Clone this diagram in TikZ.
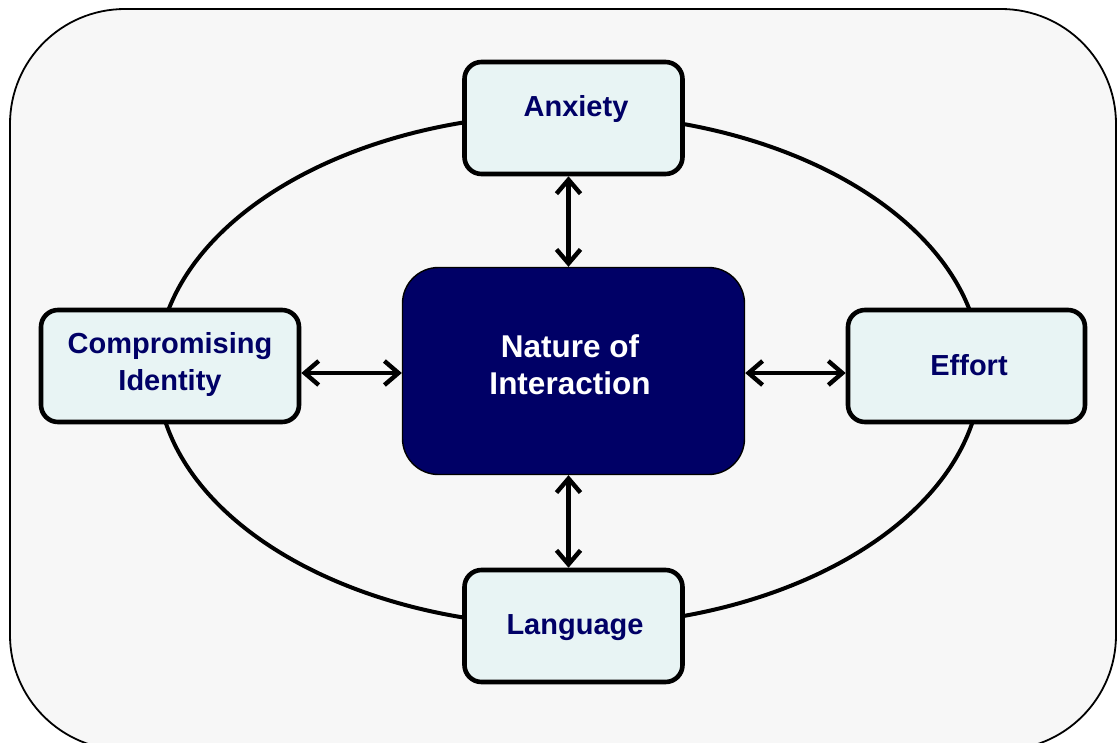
\documentclass[tikz,border=0pt]{standalone}
\usepackage{fontspec}
\setmainfont{Liberation Sans}
\usetikzlibrary{arrows.meta}
\definecolor{navy}{HTML}{000066}
\definecolor{boxfill}{HTML}{E8F4F4}
\definecolor{panel}{HTML}{F7F7F7}
\tikzset{
  panelframe/.style={draw=black, line width=1.8pt, fill=panel, rounded corners=115pt},
  ring/.style={draw=black, line width=4pt},
  factor/.style={draw=black, line width=4.6pt, fill=boxfill, rounded corners=17pt,
    minimum width=218pt, minimum height=112pt, inner sep=0pt},
  core/.style={draw=black, line width=1.4pt, fill=navy, rounded corners=36pt,
    minimum width=342pt, minimum height=207pt, inner sep=0pt},
  factortext/.style={text=navy, font=\bfseries\fontsize{29}{37}\selectfont, align=center, inner sep=0pt},
  coretext/.style={text=white, font=\bfseries\fontsize{31.5}{37}\selectfont, align=center, inner sep=0pt},
  link/.style={line width=4.4pt, line cap=round, {Straight Barb[length=14pt,width=24pt]}-{Straight Barb[length=14pt,width=24pt]}},
}
\begin{document}
\begin{tikzpicture}[x=1pt, y=-1pt]
  \clip (0,0) rectangle (1117,742);
  % rounded panel behind everything
  \draw[panelframe] (10,9) rectangle (1116,750);
  % ring linking the four factors
  \draw[ring] (569,370) ellipse [x radius=412, y radius=256];

  % boxes
  \node[factor] (anx) at (573.5,118) {};
  \node[factor, minimum width=258pt] (cid) at (170,366) {};
  \node[factor, minimum width=237pt] (eff) at (966.5,366) {};
  \node[factor] (lang) at (573.5,626) {};
  \node[core] (noi) at (573.5,371) {};

  % labels
  \node[factortext] (anxt) at (576,109) {Anxiety};
  \node[factortext] (cidt) at (170,364) {Compromising\\Identity};
  \node[factortext] (efft) at (969,365) {Effort};
  \node[factortext] (langt) at (575,628) {Language};
  \node[coretext] (noit) at (570,365) {Nature of\\Interaction};

  % two-way links to the centre
  \draw[link] ([xshift=-5pt]anx.south) -- ([xshift=-5pt]noi.north);
  \draw[link] ([xshift=-5pt]lang.north) -- ([xshift=-5pt]noi.south);
  \draw[link] ([yshift=-7pt]cid.east) -- ([yshift=-2pt]noi.west);
  \draw[link] ([yshift=-2pt]noi.east) -- ([yshift=-7pt]eff.west);
\end{tikzpicture}
\end{document}
